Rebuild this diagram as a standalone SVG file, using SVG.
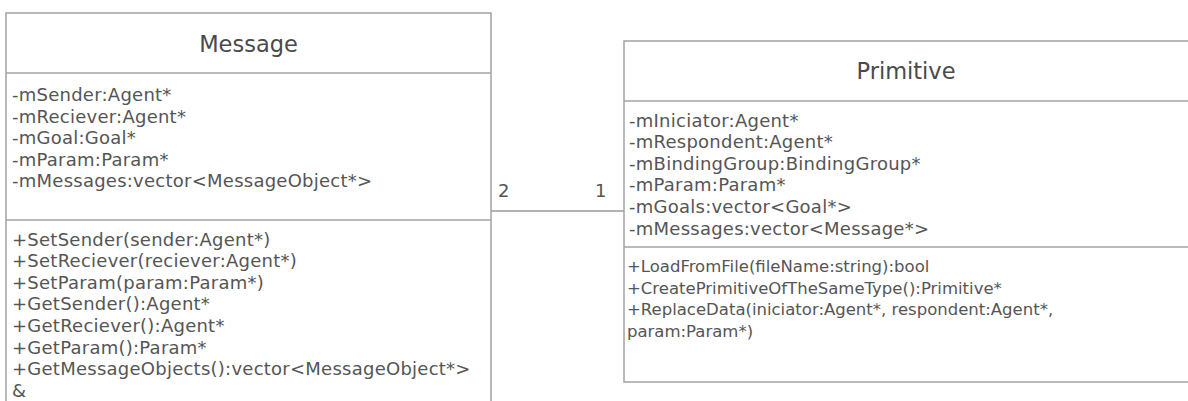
<svg xmlns="http://www.w3.org/2000/svg" width="1188" height="401" viewBox="0 0 1188 401">
  <style>
    .box { fill: #ffffff; stroke: #a3a3a3; stroke-width: 1.5; }
    .sep { stroke: #a3a3a3; stroke-width: 1.5; }
    .title { font-family: "DejaVu Sans", Verdana, sans-serif; font-size: 22.5px; fill: #4a4a4a; text-anchor: middle; }
    .member { font-family: "DejaVu Sans", Verdana, sans-serif; font-size: 18px; letter-spacing: 0.25px; fill: #555555; }
    .op-small { font-family: "DejaVu Sans", Verdana, sans-serif; font-size: 16.5px; fill: #555555; }
    .link { stroke: #9a9a9a; stroke-width: 1.5; fill: none; }
    .mult { font-family: "DejaVu Sans", Verdana, sans-serif; font-size: 18px; fill: #555555; }
  </style>
  <rect width="1188" height="401" fill="#ffffff"/>

  <!-- association between the two classes -->
  <g id="connectors">
    <line class="link" x1="491" y1="211" x2="624" y2="211"/>
    <text class="mult" x="498" y="197">2</text>
    <text class="mult" x="595" y="197">1</text>
  </g>

  <!-- class Message -->
  <g id="message">
    <rect class="box" x="6" y="13" width="485" height="400"/>
    <line class="sep" x1="6" y1="73" x2="491" y2="73"/>
    <line class="sep" x1="6" y1="220" x2="491" y2="220"/>
    <text class="title" x="248.5" y="51.5">Message</text>
    <text class="member" x="12" y="101">-mSender:Agent*</text>
    <text class="member" x="12" y="122.6">-mReciever:Agent*</text>
    <text class="member" x="12" y="144.2">-mGoal:Goal*</text>
    <text class="member" x="12" y="165.8">-mParam:Param*</text>
    <text class="member" x="12" y="187.4">-mMessages:vector&lt;MessageObject*&gt;</text>
    <text class="member" x="12" y="245.5">+SetSender(sender:Agent*)</text>
    <text class="member" x="12" y="267.1">+SetReciever(reciever:Agent*)</text>
    <text class="member" x="12" y="288.7">+SetParam(param:Param*)</text>
    <text class="member" x="12" y="310.3">+GetSender():Agent*</text>
    <text class="member" x="12" y="331.9">+GetReciever():Agent*</text>
    <text class="member" x="12" y="353.5">+GetParam():Param*</text>
    <text class="member" x="12" y="375.1">+GetMessageObjects():vector&lt;MessageObject*&gt;</text>
    <text class="member" x="12" y="396.7">&amp;</text>
  </g>

  <!-- class Primitive -->
  <g id="primitive">
    <rect class="box" x="624" y="41" width="566" height="341"/>
    <line class="sep" x1="624" y1="101" x2="1190" y2="101"/>
    <line class="sep" x1="624" y1="247" x2="1190" y2="247"/>
    <text class="title" x="906" y="79">Primitive</text>
    <text class="member" x="629" y="126.5">-mIniciator:Agent*</text>
    <text class="member" x="629" y="148.1">-mRespondent:Agent*</text>
    <text class="member" x="629" y="169.7">-mBindingGroup:BindingGroup*</text>
    <text class="member" x="629" y="191.3">-mParam:Param*</text>
    <text class="member" x="629" y="212.9">-mGoals:vector&lt;Goal*&gt;</text>
    <text class="member" x="629" y="234.5">-mMessages:vector&lt;Message*&gt;</text>
    <text class="op-small" x="627" y="272">+LoadFromFile(fileName:string):bool</text>
    <text class="op-small" x="627" y="293.6">+CreatePrimitiveOfTheSameType():Primitive*</text>
    <text class="op-small" x="627" y="315.2">+ReplaceData(iniciator:Agent*, respondent:Agent*,</text>
    <text class="op-small" x="627" y="336.8">param:Param*)</text>
  </g>
</svg>
